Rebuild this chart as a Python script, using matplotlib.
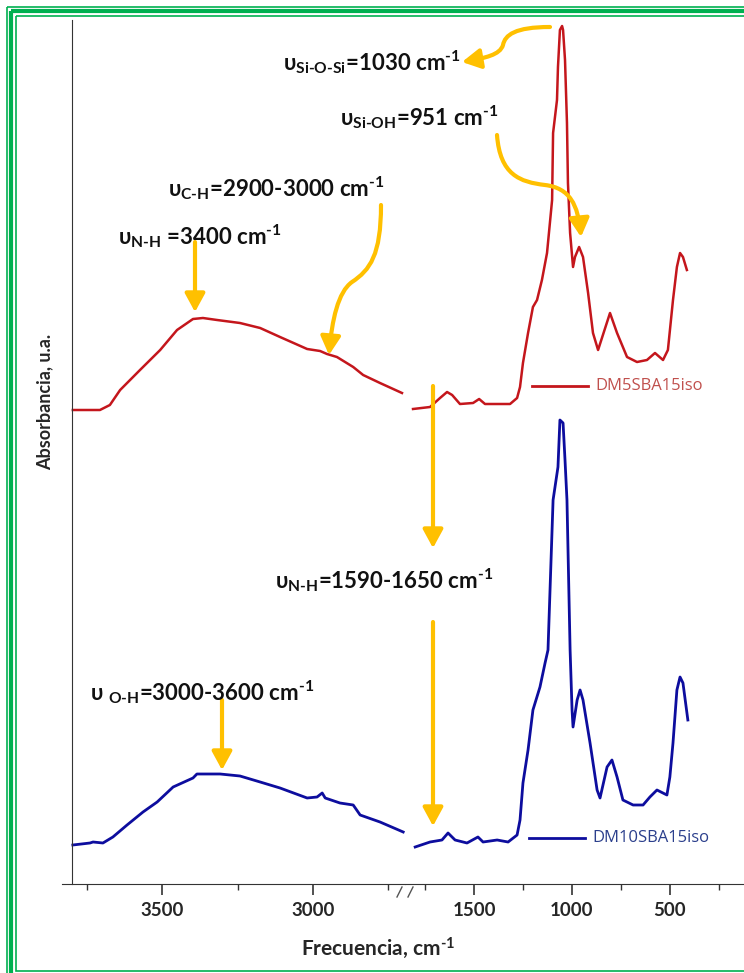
import matplotlib.pyplot as plt
from matplotlib.patches import FancyArrowPatch, Rectangle
from matplotlib.path import Path

plt.rcParams["font.family"] = ["Lato", "DejaVu Sans"]
plt.rcParams["mathtext.fontset"] = "custom"
plt.rcParams["mathtext.rm"] = "Lato:bold"
plt.rcParams["mathtext.it"] = "Lato:bold"
plt.rcParams["mathtext.bf"] = "Lato:bold"

dm5_high_wn = [3797, 3707, 3674, 3640, 3574, 3507, 3451, 3398, 3365, 3318, 3242,
               3175, 3109, 3019, 2976, 2953, 2920, 2866, 2833, 2777, 2704]
dm5_high_abs = [474, 474, 479, 494, 514, 534, 554, 565, 566, 564, 561,
                556, 547, 535, 533, 530, 527, 517, 509, 501, 491]

dm5_low_wn = [1812, 1725, 1674, 1638, 1612, 1572, 1505, 1474, 1444, 1316,
              1280, 1265, 1250, 1224, 1199, 1178, 1153, 1127, 1101, 1096,
              1076, 1071, 1061, 1050, 1045, 1035, 1025, 1020, 1009, 994,
              984, 963, 943, 917, 892, 866, 805, 769, 718, 667,
              616, 575, 534, 509, 483, 463, 447, 432, 412]
dm5_low_abs = [475, 477, 486, 492, 489, 480, 481, 485, 480, 480,
               486, 497, 521, 551, 577, 584, 604, 631, 684, 751,
               784, 817, 854, 858, 854, 824, 761, 701, 651, 617,
               627, 637, 627, 591, 551, 534, 571, 551, 527, 522,
               524, 531, 524, 534, 584, 617, 631, 627, 614]

dm10_high_wn = [3797, 3740, 3730, 3697, 3664, 3617, 3564, 3517, 3464, 3398, 3385, 3308,
                3242, 3175, 3109, 3019, 2986, 2969, 2959, 2910, 2866, 2843, 2777, 2700]
dm10_high_abs = [39, 41, 42, 41, 47, 59, 72, 82, 97, 106, 110, 110,
                 108, 102, 96, 86, 87, 91, 86, 81, 79, 69, 62, 52]

dm10_low_wn = [1801, 1725, 1664, 1633, 1597, 1536, 1480, 1454, 1382, 1326,
               1280, 1265, 1250, 1224, 1199, 1163, 1137, 1122, 1096, 1071,
               1061, 1045, 1035, 1025, 1009, 999, 994, 973, 958, 943,
               907, 871, 856, 820, 795, 769, 739, 687, 636, 601,
               565, 514, 499, 483, 463, 447, 432, 407]
dm10_low_abs = [37, 42, 44, 51, 44, 41, 47, 42, 44, 42,
                49, 64, 101, 134, 174, 197, 221, 234, 384, 417,
                464, 461, 424, 384, 234, 174, 157, 184, 194, 184,
                141, 94, 86, 117, 124, 107, 84, 79, 79, 87,
                94, 89, 107, 141, 194, 207, 201, 164]

series_names = ["DM5SBA15iso", "DM10SBA15iso"]
high_major = [3500, 3000]
high_minor = [3750, 3250, 2750]
low_major = [1500, 1000, 500]
low_minor = [1750, 1250, 750, 250]

RED = "#C4161C"
RED_TXT = "#C0504D"
BLUE = "#0D0D9E"
BLUE_TXT = "#2B3F8C"
ORANGE = "#FFC000"
GREEN = "#00B050"
AXC = "#333333"

W, H = 744, 973
fig = plt.figure(figsize=(W / 100, H / 100), dpi=100)


def px_box(x0, y0, x1, y1):
    return [x0 / W, 1 - y1 / H, (x1 - x0) / W, (y1 - y0) / H]


ax_l = fig.add_axes(px_box(62, 20, 405, 884))
ax_r = fig.add_axes(px_box(405, 20, 744, 884))

ax_l.plot(dm5_high_wn, dm5_high_abs, color=RED, lw=1.8)
ax_l.plot(dm10_high_wn, dm10_high_abs, color=BLUE, lw=2.0)
ax_r.plot(dm5_low_wn, dm5_low_abs, color=RED, lw=1.8)
ax_r.plot(dm10_low_wn, dm10_low_abs, color=BLUE, lw=2.0)

ax_l.set_xlim(3833, 2694)
ax_r.set_xlim(1853, 120)
for ax in (ax_l, ax_r):
    ax.set_ylim(0, 864)
    ax.set_yticks([])
    ax.spines["top"].set_visible(False)
    ax.spines["right"].set_visible(False)
    ax.spines["bottom"].set_color(AXC)
    ax.tick_params(axis="x", which="major", length=8, width=1.2, color=AXC,
                   labelsize=13.5, labelcolor="#262626", pad=5)
    ax.tick_params(axis="x", which="minor", length=4, width=1.0, color=AXC)
ax_r.spines["left"].set_visible(False)
ax_l.spines["left"].set_position(("data", 3800))
ax_l.spines["left"].set_color(AXC)

ax_l.set_xticks(high_major)
ax_l.set_xticks(high_minor, minor=True)
ax_r.set_xticks(low_major)
ax_r.set_xticks(low_minor, minor=True)
for ax in (ax_l, ax_r):
    for lbl in ax.get_xticklabels():
        lbl.set_fontweight("bold")

# capa superpuesta en pixeles para anotaciones y marco
ov = fig.add_axes([0, 0, 1, 1], zorder=5)
ov.set_xlim(0, W)
ov.set_ylim(H, 0)
ov.axis("off")
ov.patch.set_alpha(0)

# marco verde doble
for (x0, lw) in [(6.5, 1.2), (11, 3.0), (15.5, 1.2)]:
    ov.add_patch(Rectangle((x0, x0), 900, (970.5 - x0) + (15.5 - x0) * 2,
                           fill=False, edgecolor=GREEN, lw=lw, clip_on=False))

# marcas de corte del eje
ov.plot([397, 402], [897, 887], color="#555555", lw=1)
ov.plot([408, 413], [897, 887], color="#555555", lw=1)

# leyenda
ov.plot([532, 588], [386, 386], color=RED, lw=2)
ov.text(595, 386, series_names[0], color=RED_TXT, fontsize=12,
        family=["Open Sans", "DejaVu Sans"], va="center", ha="left")
ov.plot([529, 585], [838, 838], color=BLUE, lw=2)
ov.text(592, 838, series_names[1], color=BLUE_TXT, fontsize=12,
        family=["Open Sans", "DejaVu Sans"], va="center", ha="left")

# textos de bandas
labels = [
    (283, 70, "υ$_{\\text{Si-O-Si}}$=1030 cm$^{\\text{-1}}$"),
    (340, 125, "υ$_{\\text{Si-OH}}$=951 cm$^{\\text{-1}}$"),
    (168, 196, "υ$_{\\text{C-H}}$=2900-3000 cm$^{\\text{-1}}$"),
    (118, 244, "υ$_{\\text{N-H}}$ =3400 cm$^{\\text{-1}}$"),
    (275, 588, "υ$_{\\text{N-H}}$=1590-1650 cm$^{\\text{-1}}$"),
    (90, 700, "υ $_{\\text{O-H}}$=3000-3600 cm$^{\\text{-1}}$"),
]
for x, y, s in labels:
    ov.text(x, y, s, fontsize=16, fontweight="bold", color="#111111",
            ha="left", va="baseline")

M, C, L = Path.MOVETO, Path.CURVE4, Path.LINETO
arrows = [
    ([(550, 27), (515, 27), (505, 35), (503, 45), (500, 55), (485, 58), (462, 62)],
     [M, C, C, C, C, C, C]),
    ([(497, 135), (500, 175), (520, 182), (545, 185), (570, 188), (578, 205), (581, 237)],
     [M, C, C, C, C, C, C]),
    ([(381, 205), (381, 255), (370, 270), (352, 282), (338, 292), (332, 320), (329, 355)],
     [M, C, C, C, C, C, C]),
    ([(195, 242), (195, 312)], [M, L]),
    ([(433, 386), (433, 548)], [M, L]),
    ([(433, 622), (433, 826)], [M, L]),
    ([(222, 700), (222, 770)], [M, L]),
]
for verts, codes in arrows:
    ov.add_patch(FancyArrowPatch(path=Path(verts, codes),
                                 arrowstyle="-|>,head_length=1.1,head_width=0.6",
                                 mutation_scale=10, lw=3, color=ORANGE))

fig.text(45 / W, 1 - 402 / H, "Absorbancia, u.a.", rotation=90, fontsize=13,
         fontweight="bold", color="#262626", ha="center", va="center")
fig.text(378 / W, 1 - 955 / H, "Frecuencia, cm$^{\\text{-1}}$", fontsize=15,
         fontweight="bold", color="#262626", ha="center", va="baseline")

fig.savefig("out.png", dpi=100, facecolor="white")
